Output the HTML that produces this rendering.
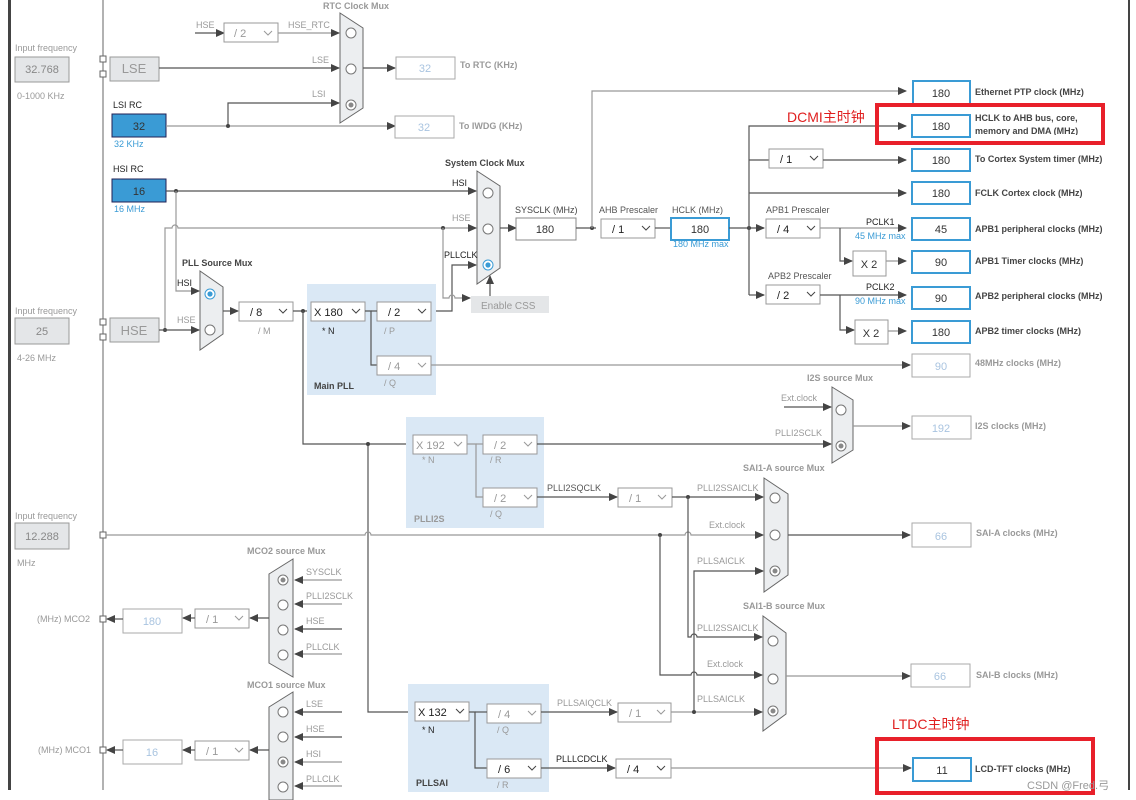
<!DOCTYPE html>
<html><head><meta charset="utf-8"><style>
html,body{margin:0;padding:0;background:#fff;}
svg{display:block;font-family:"Liberation Sans",Arial,sans-serif;}
.l{stroke:#555;stroke-width:1.2;fill:none}
.lg{stroke:#999;stroke-width:1.2;fill:none}
.db{fill:#fff;stroke:#999;stroke-width:1}
.bb{fill:#fff;stroke:#3a9bd5;stroke-width:2}
.gb{fill:#fff;stroke:#aaa;stroke-width:1}
.mux{fill:#eceef0;stroke:#666;stroke-width:1}
.t{font-size:9px;fill:#444;font-weight:bold}
.tg{font-size:9px;fill:#999;font-weight:bold}
.s{font-size:9px;fill:#999}
.sd{font-size:9px;fill:#222}
.v{font-size:11px;fill:#333;text-anchor:middle}
.vl{font-size:11px;fill:#a9c4e0;text-anchor:middle}
.blu{font-size:9px;fill:#3a9bd5}
.red{font-size:14px;fill:#e02020}
.ch{stroke:#999;fill:none;stroke-width:1}
.c{fill:#fff;stroke:#777;stroke-width:1}
</style></head><body>
<svg width="1136" height="800" viewBox="0 0 1136 800">
<defs>
<marker id="a" markerWidth="9" markerHeight="8" refX="8" refY="4" orient="auto" markerUnits="userSpaceOnUse"><path d="M0,0L9,4L0,8z" fill="#444"/></marker>
</defs>
<rect x="8" y="0" width="3" height="790" fill="#444"/>
<rect x="1128" y="0" width="2" height="790" fill="#444"/>
<line x1="103" y1="0" x2="103" y2="790" stroke="#666"/>

<!-- Left inputs -->
<text x="15" y="51" class="s">Input frequency</text>
<rect x="15" y="57" width="54" height="25" fill="#e4e6e8" stroke="#999"/><text x="42" y="73" class="v" style="fill:#888">32.768</text>
<text x="17" y="99" class="s">0-1000 KHz</text>
<rect x="100" y="56" width="6" height="6" fill="#fff" stroke="#666"/><rect x="100" y="71" width="6" height="6" fill="#fff" stroke="#666"/>
<rect x="110" y="57" width="49" height="24" fill="#e4e6e8" stroke="#999"/><text x="134" y="73" class="v" style="fill:#999;font-size:13px">LSE</text>
<text x="113" y="108" class="sd">LSI RC</text>
<rect x="112" y="114" width="54" height="23" fill="#3a9bd5" stroke="#225"/><text x="139" y="130" class="v">32</text>
<text x="114" y="147" class="blu">32 KHz</text>
<text x="113" y="172" class="sd">HSI RC</text>
<rect x="112" y="179" width="54" height="23" fill="#3a9bd5" stroke="#225"/><text x="139" y="195" class="v">16</text>
<text x="114" y="212" class="blu">16 MHz</text>

<text x="15" y="314" class="s">Input frequency</text>
<rect x="15" y="318" width="54" height="26" fill="#e4e6e8" stroke="#999"/><text x="42" y="335" class="v" style="fill:#888">25</text>
<text x="17" y="361" class="s">4-26 MHz</text>
<rect x="100" y="319" width="6" height="6" fill="#fff" stroke="#666"/><rect x="100" y="334" width="6" height="6" fill="#fff" stroke="#666"/>
<rect x="110" y="318" width="49" height="24" fill="#e4e6e8" stroke="#999"/><text x="134" y="335" class="v" style="fill:#999;font-size:13px">HSE</text>

<text x="15" y="519" class="s">Input frequency</text>
<rect x="15" y="523" width="54" height="26" fill="#e4e6e8" stroke="#999"/><text x="42" y="540" class="v" style="fill:#888">12.288</text>
<text x="17" y="566" class="s">MHz</text>
<rect x="100" y="532" width="6" height="6" fill="#fff" stroke="#666"/>

<!-- RTC -->
<text x="323" y="9" class="tg">RTC Clock Mux</text>
<polygon points="340,13 363,28 363,108 340,123" class="mux"/>
<circle cx="351" cy="33" r="5" class="c"/><circle cx="351" cy="69" r="5" class="c"/><circle cx="351" cy="105" r="5" class="c"/><circle cx="351" cy="105" r="2.5" fill="#888"/>
<text x="196" y="28" class="s">HSE</text>
<line x1="195" y1="33" x2="224" y2="33" class="l" marker-end="url(#a)"/>
<rect x="224" y="23" width="54" height="19" class="db"/><text x="234" y="37" class="s" style="font-size:11px">/ 2</text><polyline points="264,31 268,35 272,31" class="ch"/>
<text x="288" y="28" class="s">HSE_RTC</text>
<line x1="278" y1="33" x2="339" y2="33" class="lg" marker-end="url(#a)"/>
<text x="312" y="63" class="s">LSE</text>
<line x1="159" y1="68" x2="339" y2="68" class="l" marker-end="url(#a)"/>
<text x="312" y="97" class="s">LSI</text>
<polyline points="228,126 228,103 339,103" class="l" marker-end="url(#a)"/>
<line x1="166" y1="126" x2="395" y2="126" class="lg" marker-end="url(#a)"/>
<circle cx="228" cy="126" r="2" fill="#444"/>
<line x1="363" y1="68" x2="395" y2="68" class="l" marker-end="url(#a)"/>
<rect x="396" y="57" width="59" height="22" class="gb"/><text x="425" y="72" class="vl">32</text>
<text x="460" y="68" class="tg">To RTC (KHz)</text>
<rect x="395" y="116" width="59" height="22" class="gb"/><text x="424" y="131" class="vl">32</text>
<text x="459" y="129" class="tg">To IWDG (KHz)</text>

<!-- System clock mux -->
<text x="445" y="166" class="t">System Clock Mux</text>
<polygon points="477,171 500,186 500,268 477,284" class="mux"/>
<circle cx="488" cy="193" r="5" class="c"/><circle cx="488" cy="229" r="5" class="c"/><circle cx="488" cy="265" r="5" class="c" style="stroke:#3a9bd5"/><circle cx="488" cy="265" r="2.6" fill="#3a9bd5"/>
<text x="452" y="186" class="sd">HSI</text>
<line x1="166" y1="191" x2="476" y2="191" class="l" marker-end="url(#a)"/>
<circle cx="176" cy="191" r="2" fill="#444"/>
<text x="452" y="221" class="s">HSE</text>
<path d="M165,330 V228 H172 a3,3 0 0 1 6,0 H476" class="lg" marker-end="url(#a)"/>
<circle cx="165" cy="330" r="2" fill="#444"/><circle cx="443" cy="228" r="2" fill="#444"/>
<text x="444" y="258" class="sd">PLLCLK</text>
<polyline points="431,311 452,311 452,265 476,265" class="l" marker-end="url(#a)"/>
<path d="M443,228 V298 H449 a3,3 0 0 1 6,0 H470" class="lg" marker-end="url(#a)"/>
<rect x="471" y="296" width="78" height="17" fill="#e4e6e8"/><text x="481" y="309" class="s" style="font-size:10px">Enable CSS</text>
<line x1="490" y1="296" x2="490" y2="276" class="l" marker-end="url(#a)"/>
<line x1="500" y1="228" x2="516" y2="228" class="l" marker-end="url(#a)"/>
<text x="515" y="213" class="s" style="fill:#444">SYSCLK (MHz)</text>
<rect x="516" y="218" width="60" height="22" fill="#fff" stroke="#888"/><text x="545" y="233" class="v">180</text>

<!-- PLL source mux -->
<text x="182" y="266" class="t">PLL Source Mux</text>
<polygon points="200,271 223,287 223,334 200,350" class="mux"/>
<circle cx="210" cy="294" r="5" class="c" style="stroke:#3a9bd5"/><circle cx="210" cy="294" r="2.6" fill="#3a9bd5"/>
<circle cx="210" cy="330" r="5" class="c"/>
<text x="177" y="286" class="sd">HSI</text>
<polyline points="176,191 176,291 199,291" class="lg" marker-end="url(#a)"/>
<text x="177" y="323" class="s">HSE</text>
<line x1="159" y1="330" x2="199" y2="330" class="l" marker-end="url(#a)"/>
<line x1="223" y1="311" x2="238" y2="311" class="l" marker-end="url(#a)"/>
<rect x="239" y="302" width="54" height="19" class="db"/><text x="250" y="316" class="sd" style="font-size:11px">/ 8</text><polyline points="279,309 283,313 287,309" class="ch" style="stroke:#444"/>
<text x="258" y="334" class="s">/ M</text>
<line x1="293" y1="311" x2="311" y2="311" class="l"/>
<circle cx="303" cy="311" r="2" fill="#444"/>

<!-- Main PLL -->
<rect x="307" y="284" width="129" height="111" fill="#dae8f5"/>
<rect x="311" y="302" width="54" height="19" class="db"/><text x="314" y="316" class="sd" style="font-size:11px">X 180</text><polyline points="352,309 356,313 360,309" class="ch" style="stroke:#444"/>
<text x="322" y="334" class="sd">* N</text>
<rect x="377" y="302" width="54" height="19" class="db"/><text x="388" y="316" class="sd" style="font-size:11px">/ 2</text><polyline points="418,309 422,313 426,309" class="ch" style="stroke:#444"/>
<text x="384" y="334" class="s">/ P</text>
<polyline points="365,311 371,311 371,365 377,365" class="l"/>
<line x1="371" y1="311" x2="377" y2="311" class="l"/>
<rect x="377" y="356" width="54" height="19" class="db"/><text x="388" y="370" class="s" style="font-size:11px">/ 4</text><polyline points="418,363 422,367 426,363" class="ch"/>
<text x="384" y="386" class="s">/ Q</text>
<text x="314" y="389" class="t">Main PLL</text>
<line x1="431" y1="365" x2="910" y2="365" class="lg" marker-end="url(#a)"/>
<rect x="912" y="354" width="58" height="23" class="gb"/><text x="941" y="370" class="vl">90</text>
<text x="975" y="366" class="tg">48MHz clocks (MHz)</text>

<!-- PLL chain verticals -->
<polyline points="303,311 303,444 412,444" class="l"/>
<polyline points="368,444 368,712 414,712" class="l"/>
<circle cx="368" cy="444" r="2" fill="#444"/>

<!-- PLLI2S -->
<rect x="406" y="417" width="138" height="111" fill="#dae8f5"/>
<rect x="413" y="435" width="54" height="19" class="db"/><text x="416" y="449" class="s" style="font-size:11px">X 192</text><polyline points="454,442 458,446 462,442" class="ch"/>
<text x="422" y="463" class="s">* N</text>
<rect x="483" y="435" width="54" height="19" class="db"/><text x="494" y="449" class="s" style="font-size:11px">/ 2</text><polyline points="524,442 528,446 532,442" class="ch"/>
<text x="490" y="463" class="s">/ R</text>
<polyline points="467,444 476,444 476,497 483,497" class="lg"/><line x1="476" y1="444" x2="483" y2="444" class="lg"/>
<rect x="483" y="488" width="54" height="19" class="db"/><text x="494" y="502" class="s" style="font-size:11px">/ 2</text><polyline points="524,495 528,499 532,495" class="ch"/>
<text x="490" y="517" class="s">/ Q</text>
<text x="414" y="522" class="tg">PLLI2S</text>
<line x1="537" y1="444" x2="831" y2="444" class="l" marker-end="url(#a)"/>
<text x="775" y="436" class="s">PLLI2SCLK</text>
<text x="807" y="381" class="tg">I2S source Mux</text>
<polygon points="832,387 853,400 853,450 832,463" class="mux"/>
<circle cx="841" cy="410" r="5" class="c"/><circle cx="841" cy="446" r="5" class="c"/><circle cx="841" cy="446" r="2.5" fill="#888"/>
<text x="781" y="401" class="s">Ext.clock</text>
<line x1="784" y1="407" x2="831" y2="407" class="l" marker-end="url(#a)"/>
<line x1="853" y1="426" x2="910" y2="426" class="lg" marker-end="url(#a)"/>
<rect x="912" y="416" width="59" height="23" class="gb"/><text x="941" y="432" class="vl">192</text>
<text x="975" y="429" class="tg">I2S clocks (MHz)</text>

<!-- SAI paths -->
<text x="547" y="491" class="s" style="fill:#555">PLLI2SQCLK</text>
<line x1="537" y1="497" x2="617" y2="497" class="l" marker-end="url(#a)"/>
<rect x="618" y="488" width="54" height="19" class="db"/><text x="629" y="502" class="s" style="font-size:11px">/ 1</text><polyline points="658,495 662,499 666,495" class="ch"/>
<line x1="672" y1="497" x2="763" y2="497" class="l" marker-end="url(#a)"/>
<text x="697" y="491" class="s">PLLI2SSAICLK</text>
<circle cx="688" cy="497" r="2" fill="#444"/>
<path d="M106,535 H365 a3,3 0 0 1 6,0 H685 a3,3 0 0 1 6,0 H763" class="lg" marker-end="url(#a)"/>
<circle cx="660" cy="535" r="2" fill="#444"/>
<text x="709" y="528" class="s">Ext.clock</text>
<text x="743" y="471" class="tg">SAI1-A source Mux</text>
<polygon points="764,478 788,494 788,575 764,592" class="mux"/>
<circle cx="775" cy="498" r="5" class="c"/><circle cx="775" cy="535" r="5" class="c"/><circle cx="775" cy="571" r="5" class="c"/><circle cx="775" cy="571" r="2.5" fill="#888"/>
<polyline points="694,712 694,571 763,571" class="l" marker-end="url(#a)"/>
<text x="697" y="564" class="s">PLLSAICLK</text>
<line x1="788" y1="535" x2="910" y2="535" class="l" marker-end="url(#a)"/>
<rect x="912" y="523" width="59" height="24" class="gb"/><text x="941" y="540" class="vl">66</text>
<text x="976" y="536" class="tg">SAI-A clocks (MHz)</text>

<text x="743" y="609" class="tg">SAI1-B source Mux</text>
<polygon points="763,616 786,633 786,714 763,731" class="mux"/>
<circle cx="773" cy="641" r="5" class="c"/><circle cx="773" cy="679" r="5" class="c"/><circle cx="773" cy="711" r="5" class="c"/><circle cx="773" cy="711" r="2.5" fill="#888"/>
<path d="M688,497 V637 H691 a3,3 0 0 1 6,0 H762" class="l" marker-end="url(#a)"/>
<text x="697" y="631" class="s">PLLI2SSAICLK</text>
<path d="M660,535 V675 H691 a3,3 0 0 1 6,0 H762" class="l" marker-end="url(#a)"/>
<text x="707" y="667" class="s">Ext.clock</text>
<line x1="671" y1="712" x2="762" y2="712" class="lg" marker-end="url(#a)"/>
<circle cx="694" cy="712" r="2" fill="#444"/>
<text x="697" y="702" class="s">PLLSAICLK</text>
<line x1="786" y1="676" x2="910" y2="676" class="lg" marker-end="url(#a)"/>
<rect x="911" y="664" width="59" height="23" class="gb"/><text x="940" y="680" class="vl">66</text>
<text x="976" y="678" class="tg">SAI-B clocks (MHz)</text>

<!-- PLLSAI -->
<rect x="408" y="684" width="141" height="108" fill="#dae8f5"/>
<rect x="415" y="702" width="54" height="19" class="db"/><text x="418" y="716" class="sd" style="font-size:11px">X 132</text><polyline points="456,709 460,713 464,709" class="ch" style="stroke:#444"/>
<text x="422" y="733" class="sd">* N</text>
<rect x="487" y="704" width="54" height="19" class="db"/><text x="498" y="718" class="s" style="font-size:11px">/ 4</text><polyline points="528,711 532,715 536,711" class="ch"/>
<text x="497" y="733" class="s">/ Q</text>
<polyline points="469,712 475,712 475,768 487,768" class="l"/><line x1="475" y1="712" x2="487" y2="712" class="l"/>
<rect x="487" y="759" width="54" height="19" class="db"/><text x="498" y="773" class="sd" style="font-size:11px">/ 6</text><polyline points="528,766 532,770 536,766" class="ch" style="stroke:#444"/>
<text x="497" y="788" class="s">/ R</text>
<text x="416" y="786" class="t">PLLSAI</text>
<text x="557" y="706" class="s">PLLSAIQCLK</text>
<line x1="541" y1="712" x2="617" y2="712" class="l" marker-end="url(#a)"/>
<rect x="618" y="703" width="53" height="19" class="db"/><text x="629" y="717" class="s" style="font-size:11px">/ 1</text><polyline points="657,710 661,714 665,710" class="ch"/>
<text x="556" y="762" class="sd">PLLLCDCLK</text>
<line x1="541" y1="768" x2="615" y2="768" class="l" marker-end="url(#a)"/>
<rect x="616" y="759" width="55" height="19" class="db"/><text x="627" y="773" class="sd" style="font-size:11px">/ 4</text><polyline points="657,766 661,770 665,766" class="ch" style="stroke:#444"/>
<line x1="671" y1="768" x2="911" y2="768" class="lg" marker-end="url(#a)"/>
<rect x="913" y="758" width="58" height="23" class="bb"/><text x="942" y="774" class="v">11</text>
<text x="975" y="772" class="t">LCD-TFT clocks (MHz)</text>
<rect x="877" y="739" width="216" height="54" fill="none" stroke="#e8202a" stroke-width="4"/>
<text x="892" y="729" class="red">LTDC主时钟</text>
<text x="1027" y="789" style="font-size:11px;fill:#999">CSDN @Fred.弓</text>

<!-- MCO -->
<text x="247" y="554" class="tg">MCO2 source Mux</text>
<polygon points="269,574 293,559 293,677 269,663" class="mux"/>
<circle cx="283" cy="580" r="5" class="c"/><circle cx="283" cy="580" r="2.5" fill="#888"/>
<circle cx="283" cy="605" r="5" class="c"/><circle cx="283" cy="630" r="5" class="c"/><circle cx="283" cy="655" r="5" class="c"/>
<line x1="342" y1="580" x2="295" y2="580" class="lg" marker-end="url(#a)"/><text x="306" y="575" class="s">SYSCLK</text>
<line x1="342" y1="604" x2="295" y2="604" class="lg" marker-end="url(#a)"/><text x="306" y="599" class="s">PLLI2SCLK</text>
<line x1="342" y1="629" x2="295" y2="629" class="l" marker-end="url(#a)"/><text x="306" y="624" class="s">HSE</text>
<line x1="342" y1="654" x2="295" y2="654" class="lg" marker-end="url(#a)"/><text x="306" y="650" class="s">PLLCLK</text>
<line x1="269" y1="618" x2="250" y2="618" class="l" marker-end="url(#a)"/>
<rect x="195" y="609" width="54" height="19" class="db"/><text x="206" y="623" class="s" style="font-size:11px">/ 1</text><polyline points="235,616 239,620 243,616" class="ch"/>
<line x1="195" y1="618" x2="183" y2="618" class="l" marker-end="url(#a)"/>
<rect x="123" y="609" width="59" height="24" class="gb"/><text x="152" y="625" class="vl">180</text>
<line x1="123" y1="619" x2="107" y2="619" class="l" marker-end="url(#a)"/>
<rect x="100" y="616" width="6" height="6" fill="#fff" stroke="#666"/>
<text x="37" y="622" class="s">(MHz) MCO2</text>

<text x="247" y="688" class="tg">MCO1 source Mux</text>
<polygon points="269,707 293,692 293,800 269,800" class="mux"/>
<circle cx="283" cy="712" r="5" class="c"/><circle cx="283" cy="737" r="5" class="c"/><circle cx="283" cy="762" r="5" class="c"/><circle cx="283" cy="762" r="2.5" fill="#888"/><circle cx="283" cy="787" r="5" class="c"/>
<line x1="342" y1="712" x2="295" y2="712" class="l" marker-end="url(#a)"/><text x="306" y="707" class="s">LSE</text>
<line x1="342" y1="737" x2="295" y2="737" class="l" marker-end="url(#a)"/><text x="306" y="732" class="s">HSE</text>
<line x1="342" y1="762" x2="295" y2="762" class="lg" marker-end="url(#a)"/><text x="306" y="757" class="s">HSI</text>
<line x1="342" y1="786" x2="295" y2="786" class="lg" marker-end="url(#a)"/><text x="306" y="782" class="s">PLLCLK</text>
<line x1="269" y1="750" x2="250" y2="750" class="l" marker-end="url(#a)"/>
<rect x="195" y="741" width="54" height="19" class="db"/><text x="206" y="755" class="s" style="font-size:11px">/ 1</text><polyline points="235,748 239,752 243,748" class="ch"/>
<line x1="195" y1="750" x2="183" y2="750" class="l" marker-end="url(#a)"/>
<rect x="123" y="740" width="59" height="24" class="gb"/><text x="152" y="756" class="vl">16</text>
<line x1="123" y1="750" x2="107" y2="750" class="l" marker-end="url(#a)"/>
<rect x="100" y="747" width="6" height="6" fill="#fff" stroke="#666"/>
<text x="38" y="753" class="s">(MHz) MCO1</text>

<!-- AHB / APB -->
<line x1="576" y1="228" x2="596" y2="228" class="l"/>
<circle cx="592" cy="228" r="2" fill="#444"/>
<polyline points="592,228 592,91 906,91" class="lg" marker-end="url(#a)"/>
<text x="599" y="213" class="s" style="fill:#555">AHB Prescaler</text>
<rect x="601" y="219" width="54" height="19" class="db"/><text x="612" y="233" class="sd" style="font-size:11px">/ 1</text><polyline points="642,226 646,230 650,226" class="ch" style="stroke:#444"/>
<line x1="655" y1="228" x2="670" y2="228" class="l"/>
<text x="672" y="213" class="s" style="fill:#555">HCLK (MHz)</text>
<rect x="671" y="218" width="58" height="22" class="bb"/><text x="700" y="233" class="v">180</text>
<text x="673" y="247" class="blu">180 MHz max</text>
<line x1="729" y1="228" x2="764" y2="228" class="l" marker-end="url(#a)"/>
<circle cx="749" cy="228" r="2" fill="#444"/>
<polyline points="749,295 749,126 906,126" class="l" marker-end="url(#a)"/>
<line x1="749" y1="160" x2="769" y2="160" class="l"/>
<rect x="769" y="149" width="54" height="19" class="db"/><text x="780" y="163" class="sd" style="font-size:11px">/ 1</text><polyline points="810,156 814,160 818,156" class="ch" style="stroke:#444"/>
<line x1="823" y1="160" x2="906" y2="160" class="l" marker-end="url(#a)"/>
<line x1="749" y1="193" x2="906" y2="193" class="l" marker-end="url(#a)"/>
<line x1="749" y1="295" x2="764" y2="295" class="l" marker-end="url(#a)"/>

<text x="766" y="213" class="s" style="fill:#555">APB1 Prescaler</text>
<rect x="766" y="219" width="54" height="19" class="db"/><text x="777" y="233" class="sd" style="font-size:11px">/ 4</text><polyline points="807,226 811,230 815,226" class="ch" style="stroke:#444"/>
<line x1="820" y1="228" x2="906" y2="228" class="lg" marker-end="url(#a)"/>
<text x="866" y="225" class="sd">PCLK1</text><text x="855" y="239" class="blu">45 MHz max</text>
<polyline points="840,228 840,261 852,261" class="l" marker-end="url(#a)"/>
<rect x="853" y="251" width="33" height="25" class="db"/><text x="869" y="268" class="v">X 2</text>
<line x1="886" y1="261" x2="906" y2="261" class="lg" marker-end="url(#a)"/>

<text x="768" y="279" class="s" style="fill:#555">APB2 Prescaler</text>
<rect x="766" y="285" width="54" height="19" class="db"/><text x="777" y="299" class="sd" style="font-size:11px">/ 2</text><polyline points="807,292 811,296 815,292" class="ch" style="stroke:#444"/>
<line x1="820" y1="295" x2="906" y2="295" class="l" marker-end="url(#a)"/>
<text x="866" y="290" class="sd">PCLK2</text><text x="855" y="304" class="blu">90 MHz max</text>
<polyline points="840,295 840,330 854,330" class="l" marker-end="url(#a)"/>
<rect x="855" y="320" width="33" height="24" class="db"/><text x="871" y="337" class="v">X 2</text>
<line x1="888" y1="331" x2="906" y2="331" class="lg" marker-end="url(#a)"/>

<rect x="913" y="81" width="57" height="23" class="bb"/><text x="941" y="97" class="v">180</text>
<text x="975" y="95" class="t">Ethernet PTP clock (MHz)</text>
<rect x="912" y="115" width="58" height="22" class="bb"/><text x="941" y="130" class="v">180</text>
<text x="975" y="121" class="t">HCLK to AHB bus, core,</text>
<svg x="975" y="125" width="120" height="10"><text x="0" y="9" class="t">memory and DMA (MHz)</text></svg>
<rect x="877" y="105" width="226" height="38" fill="none" stroke="#e8202a" stroke-width="4"/>
<text x="787" y="122" class="red">DCMI主时钟</text>
<rect x="912" y="149" width="58" height="22" class="bb"/><text x="941" y="164" class="v">180</text>
<text x="975" y="162" class="t">To Cortex System timer (MHz)</text>
<rect x="912" y="182" width="58" height="22" class="bb"/><text x="941" y="197" class="v">180</text>
<text x="975" y="196" class="t">FCLK Cortex clock (MHz)</text>
<rect x="912" y="218" width="58" height="22" class="bb"/><text x="941" y="233" class="v">45</text>
<text x="975" y="232" class="t">APB1 peripheral clocks (MHz)</text>
<rect x="912" y="251" width="58" height="22" class="bb"/><text x="941" y="266" class="v">90</text>
<text x="975" y="264" class="t">APB1 Timer clocks (MHz)</text>
<rect x="912" y="287" width="58" height="22" class="bb"/><text x="941" y="302" class="v">90</text>
<text x="975" y="299" class="t">APB2 peripheral clocks (MHz)</text>
<rect x="912" y="321" width="58" height="22" class="bb"/><text x="941" y="336" class="v">180</text>
<text x="975" y="334" class="t">APB2 timer clocks (MHz)</text>
</svg>
</body></html>
